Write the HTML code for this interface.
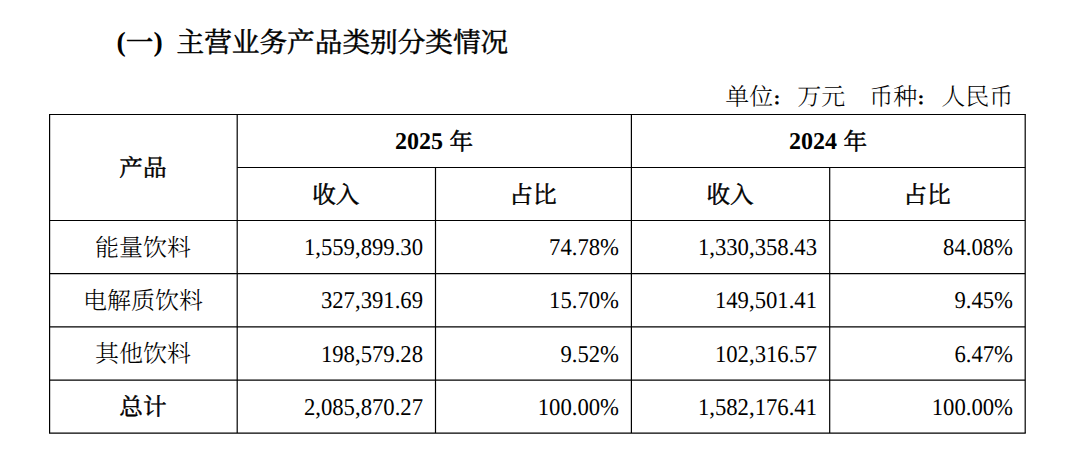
<!DOCTYPE html>
<html lang="zh-CN">
<head>
<meta charset="utf-8">
<title>主营业务产品类别分类情况</title>
<style>
html,body{margin:0;padding:0;background:#fff;}
body{width:1080px;height:460px;position:relative;overflow:hidden;color:#000;
  font-family:"Liberation Serif","Noto Serif CJK SC",serif;text-rendering:geometricPrecision;}
.t{position:absolute;white-space:nowrap;line-height:1;}
.title{left:116.6px;top:28.0px;font-size:27.8px;font-weight:400;-webkit-text-stroke:0.5px #000;}
.title .lb{font-weight:bold;-webkit-text-stroke:0;}
.dn{position:relative;top:1.1px;left:0.6px;}
.tk{position:relative;top:1.0px;font-size:27.65px;}
.unit{right:66.8px;top:86.2px;font-size:24px;font-weight:300;}
.c{position:absolute;font-size:24px;line-height:1;white-space:nowrap;}
.ctr{text-align:center;}
.r{text-align:right;}
.k{font-weight:300;}
.cl{display:inline-block;font-weight:900;transform:translate(-3.0px,2.9px) scale(.68);transform-origin:29% 47%;}
.b{font-weight:400;-webkit-text-stroke:0.5px #000;font-size:23.6px;}
.b .lb{font-size:24px;}
.lb{font-weight:bold;-webkit-text-stroke:0;}
.dn{position:relative;top:1.1px;left:0.6px;}
.n{display:inline-block;transform:scaleX(.945);transform-origin:100% 83.75%;}
svg{position:absolute;left:0;top:0;}
</style>
</head>
<body>
<svg width="1080" height="460" viewBox="0 0 1080 460">
<g stroke="#000" stroke-width="1.2" fill="none">
<line x1="49.6" y1="114.5" x2="49.6" y2="433.1"/>
<line x1="237.2" y1="114.5" x2="237.2" y2="433.1"/>
<line x1="435.5" y1="167.5" x2="435.5" y2="433.1"/>
<line x1="631.4" y1="114.5" x2="631.4" y2="433.1"/>
<line x1="829.7" y1="167.5" x2="829.7" y2="433.1"/>
<line x1="1025.2" y1="114.5" x2="1025.2" y2="433.1"/>
<line x1="49.0" y1="114.5" x2="1025.8" y2="114.5"/>
<line x1="237.2" y1="167.5" x2="1025.2" y2="167.5"/>
<line x1="49.6" y1="220.5" x2="1025.2" y2="220.5"/>
<line x1="49.6" y1="273.6" x2="1025.2" y2="273.6"/>
<line x1="49.6" y1="326.85" x2="1025.2" y2="326.85"/>
<line x1="49.6" y1="380.1" x2="1025.2" y2="380.1"/>
<line x1="49.0" y1="433.1" x2="1025.8" y2="433.1"/>
</g>
</svg>
<div class="t title"><span class="lb">(</span><span class="tk">一</span><span class="lb">)</span><span style="display:inline-block;width:13.8px"></span><span class="tk">主营业务产品类别分类情况</span></div>
<div class="t unit">单位<span class="cl">：</span>万元&#12288;币种<span class="cl">：</span>人民币</div>
<div class="c ctr b" style="left:49.1px;width:187.6px;top:158.2px;">产品</div>
<div class="c ctr b" style="left:236.7px;width:394.2px;top:130.0px;"><span class="lb">2025</span> <span class="dn">年</span></div>
<div class="c ctr b" style="left:630.9px;width:393.8px;top:130.0px;"><span class="lb">2024</span> <span class="dn">年</span></div>
<div class="c ctr b" style="left:236.7px;width:198.3px;top:184.7px;">收入</div>
<div class="c ctr b" style="left:435.0px;width:195.9px;top:184.7px;">占比</div>
<div class="c ctr b" style="left:630.9px;width:198.3px;top:184.7px;">收入</div>
<div class="c ctr b" style="left:829.2px;width:195.5px;top:184.7px;">占比</div>
<div class="c ctr k" style="left:49.1px;width:187.6px;top:237.2px;">能量饮料</div>
<div class="c r" style="left:237.2px;width:186.1px;top:236.2px;"><span class="n">1,559,899.30</span></div>
<div class="c r" style="left:435.5px;width:183.7px;top:236.2px;"><span class="n">74.78%</span></div>
<div class="c r" style="left:631.4px;width:186.1px;top:236.2px;"><span class="n">1,330,358.43</span></div>
<div class="c r" style="left:829.7px;width:183.3px;top:236.2px;"><span class="n">84.08%</span></div>
<div class="c ctr k" style="left:49.1px;width:187.6px;top:290.3px;">电解质饮料</div>
<div class="c r" style="left:237.2px;width:186.1px;top:289.3px;"><span class="n">327,391.69</span></div>
<div class="c r" style="left:435.5px;width:183.7px;top:289.3px;"><span class="n">15.70%</span></div>
<div class="c r" style="left:631.4px;width:186.1px;top:289.3px;"><span class="n">149,501.41</span></div>
<div class="c r" style="left:829.7px;width:183.3px;top:289.3px;"><span class="n">9.45%</span></div>
<div class="c ctr k" style="left:49.1px;width:187.6px;top:343.4px;">其他饮料</div>
<div class="c r" style="left:237.2px;width:186.1px;top:343.1px;"><span class="n">198,579.28</span></div>
<div class="c r" style="left:435.5px;width:183.7px;top:343.1px;"><span class="n">9.52%</span></div>
<div class="c r" style="left:631.4px;width:186.1px;top:343.1px;"><span class="n">102,316.57</span></div>
<div class="c r" style="left:829.7px;width:183.3px;top:343.1px;"><span class="n">6.47%</span></div>
<div class="c ctr b" style="left:49.1px;width:187.6px;top:397.0px;">总计</div>
<div class="c r" style="left:237.2px;width:186.1px;top:395.5px;"><span class="n">2,085,870.27</span></div>
<div class="c r" style="left:435.5px;width:183.7px;top:395.5px;"><span class="n">100.00%</span></div>
<div class="c r" style="left:631.4px;width:186.1px;top:395.5px;"><span class="n">1,582,176.41</span></div>
<div class="c r" style="left:829.7px;width:183.3px;top:395.5px;"><span class="n">100.00%</span></div>
</body>
</html>
